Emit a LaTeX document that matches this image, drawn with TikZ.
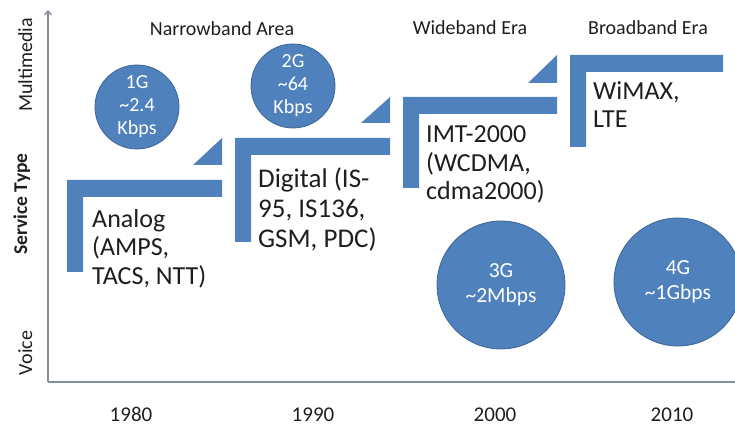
\documentclass[tikz,border=0pt]{standalone}
\usepackage{fontspec}
\setmainfont{Carlito}
\usepackage{tikz}
\usetikzlibrary{positioning,calc,arrows.meta}
\definecolor{genblue}{RGB}{79,129,189}
\definecolor{genedge}{RGB}{60,100,150}
\definecolor{axisgray}{RGB}{130,142,162}
\definecolor{txt}{RGB}{30,30,30}

\begin{document}
\begin{tikzpicture}[x=1pt,y=-1pt,
    gen/.style={circle,fill=genblue,draw=genedge,line width=0.8pt,text=white,align=center,inner sep=0pt,font=\fontsize{20}{23}\selectfont},
    tech/.style={anchor=base west,align=left,inner sep=0pt,text=txt,font=\fontsize{26}{28.5}\selectfont},
    axislabel/.style={text=txt,inner sep=0pt,font=\fontsize{20}{24}\selectfont}]
  \useasboundingbox (0,0) rectangle (735,427);
  \coordinate (O) at (48,382);
  \coordinate (Y) at (48,10);
  \coordinate (X) at (735,382);

  % axes
  \draw[axisgray,line width=1.3pt,-{Straight Barb[length=4pt,width=7pt]}] (O) -- (Y);
  \draw[axisgray,line width=1.3pt] (O) -- (X);

  % brackets
  \foreach \l/\t/\r/\b in {67/180/222/272,235/138/390/242,403/97/557/188,570/55/723/147} {
    \fill[genblue] (\l,\b) -- (\l,\t) -- (\r,\t) -- (\r,\t+17) -- (\l+16,\t+17) -- (\l+16,\b) -- cycle;
  }

  % steps
  \foreach \r/\b/\t in {222/165/138,390/123/97,557/83/55}
    \fill[genblue] (\r-29,\b) -- (\r,\b) -- (\r,\t) -- cycle;

  % technologies (base = last line)
  \node[tech] (analog) at (92,284) {Analog\\(AMPS,\\TACS, NTT)};
  \node[tech,font=\fontsize{27}{30}\selectfont] (digital) at (258,248) {Digital (IS-\\95, IS136,\\GSM, PDC)};
  \node[tech] (imt) at (426,200) {IMT-2000\\(WCDMA,\\cdma2000)};
  \node[tech] (wimax) at (593,128) {WiMAX,\\LTE};

  % generations
  \node[gen,minimum size=84pt] (g1) at (137,107) {1G\\\textasciitilde2.4\\Kbps};
  \node[gen,minimum size=84pt] (g2) at (293,86) {2G\\\textasciitilde64\\Kbps};
  \node[gen,minimum size=128pt,font=\fontsize{21.5}{25}\selectfont] (g3) at (501,285) {3G\\\textasciitilde2Mbps};
  \node[gen,minimum size=128pt,font=\fontsize{21.5}{25}\selectfont] (g4) at (678,282) {4G\\\textasciitilde1Gbps};

  % eras
  \node[axislabel,anchor=base] (narrow) at (222,36) {Narrowband Area};
  \node[axislabel,anchor=base] (wide) at (470,35) {Wideband Era};
  \node[axislabel,anchor=base] (broad) at (648,35) {Broadband Era};

  % service type
  \node[axislabel,rotate=90,anchor=base] (multi) at (32,65) {Multimedia};
  \node[axislabel,rotate=90,anchor=base,font=\fontsize{19.5}{24}\bfseries] (stype) at (27,204) {Service Type};
  \node[axislabel,rotate=90,anchor=base] (voice) at (32,353) {Voice};

  % years
  \foreach \x/\yr in {131/1980,313/1990,495/2000,672/2010}
    \node[axislabel,anchor=base,font=\fontsize{21}{24}\selectfont] (y\yr) at (\x,421) {\yr};
\end{tikzpicture}
\end{document}
